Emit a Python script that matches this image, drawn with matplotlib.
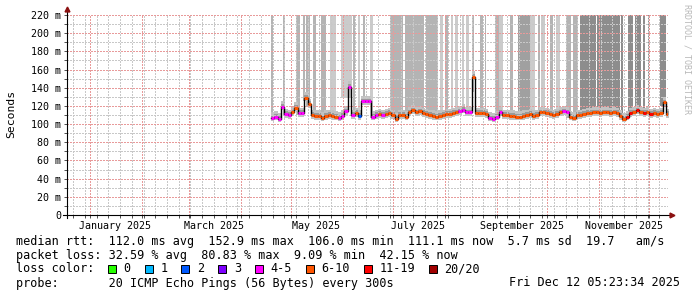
import numpy as np
import matplotlib
matplotlib.use('Agg')
import matplotlib.pyplot as plt
import matplotlib.dates as mdates
from matplotlib.ticker import MultipleLocator, FuncFormatter
from matplotlib.patches import Rectangle

plt.rcParams['font.family'] = ['DejaVu Sans Mono', 'DejaVu Sans']

# median rtt in ms, one value every 2 days, first value on day 108 of 2025 (19 Apr)
first_day = 108
step_days = 2
median_ms = [107, 108, 106, 119, 111, 110, 113, 118, 112, 112,
             129, 122, 110, 109, 109, 107, 109, 110, 109, 108,
             107, 109, 114, 141, 110, 112, 109, 125, 125, 125,
             108, 110, 111, 110, 111, 112, 110, 106, 110, 110,
             108, 113, 115, 113, 114, 112, 111, 110, 109, 108,
             109, 110, 111, 111, 112, 113, 114, 116, 113, 113,
             152, 112, 112, 112, 111, 107, 106, 108, 113, 110,
             110, 109, 109, 108, 108, 109, 110, 111, 109, 110,
             113, 113, 112, 111, 110, 111, 113, 114, 113, 108,
             107, 110, 110, 111, 112, 112, 113, 113, 112, 113,
             113, 112, 113, 112, 109, 106, 108, 112, 113, 115,
             113, 112, 113, 111, 112, 111, 112, 124, 111]
# loss class per value (index into loss_labels)
loss_class = [4, 4, 4, 4, 4, 4, 5, 5, 4, 4,
              5, 5, 5, 5, 5, 5, 5, 5, 5, 5,
              4, 4, 4, 4, 4, 5, 2, 4, 4, 4,
              4, 4, 5, 4, 5, 5, 5, 5, 5, 5,
              5, 5, 5, 5, 5, 5, 5, 5, 5, 5,
              5, 5, 5, 5, 5, 5, 4, 4, 4, 4,
              5, 5, 5, 5, 5, 4, 4, 4, 4, 5,
              5, 5, 5, 5, 5, 5, 5, 5, 5, 5,
              5, 5, 5, 5, 5, 5, 5, 4, 4, 5,
              5, 5, 5, 5, 5, 5, 5, 5, 5, 5,
              5, 5, 5, 5, 5, 5, 6, 6, 5, 6,
              5, 6, 5, 6, 5, 5, 5, 5, 5]

# tall smoke bands (day numbers of 2025) and their density level 1..4
smoke_from = [108.0, 115.5, 123.0, 127.0, 129.0, 133.0, 138.0, 143.5, 150.0, 157.0,
              160.0, 163.0, 167.5, 179.0, 188.0, 200.5, 209.0, 212.0, 215.5, 218.0,
              222.0, 224.5, 228.0, 233.0, 236.0, 242.0, 244.5, 251.0, 255.5, 263.0,
              267.5, 269.5, 275.0, 278.5, 284.0, 288.5, 292.5, 303.0, 317.0, 321.5,
              325.5, 330.5, 333.0, 340.5]
smoke_to = [109.5, 116.5, 125.5, 128.5, 131.5, 135.0, 141.0, 147.0, 156.5, 158.5,
            161.5, 164.5, 169.0, 187.0, 199.5, 208.0, 211.0, 214.0, 217.0, 220.0,
            223.5, 226.5, 229.5, 235.0, 236.5, 244.5, 246.5, 252.5, 263.0, 266.0,
            269.0, 272.0, 276.5, 281.0, 287.0, 291.5, 302.5, 316.5, 318.5, 324.5,
            329.0, 331.5, 334.0, 344.0]
smoke_level = [2, 2, 2, 2, 2, 2, 2, 1, 1, 2,
               1, 2, 1, 2, 2, 2, 1, 2, 1, 1,
               1, 1, 2, 2, 2, 2, 1, 2, 3, 1,
               2, 1, 2, 1, 2, 2, 4, 4, 4, 4,
               4, 4, 4, 4]

loss_labels = ['0', '1', '2', '3', '4-5', '6-10', '11-19', '20/20']
loss_colors = ['#26ff00', '#00b8ff', '#0059ff', '#7e00ff', '#ff00ff', '#ff5500', '#ff0000', '#a10000']

month_labels = ['January 2025', 'March 2025', 'May 2025', 'July 2025', 'September 2025', 'November 2025']
month_label_days = [15, 74, 135, 196, 258, 319]

rtt_stats = ['112.0 ms avg', '152.9 ms max', '106.0 ms min', '111.1 ms now', '5.7 ms sd', '19.7   am/s']
loss_stats = ['32.59 % avg', '80.83 % max', '9.09 % min', '42.15 % now']

W, H = 697, 297
fig = plt.figure(figsize=(W / 100, H / 100), dpi=100)
ax = fig.add_axes([67 / W, 82 / H, 601 / W, 200 / H])

base = mdates.date2num(np.datetime64('2025-01-01'))
days = first_day + step_days * np.arange(len(median_ms))
x = base + days
med = np.array(median_ms, dtype=float)
x_ext = np.append(x, x[-1] + step_days)
med_ext = np.append(med, med[-1])

# tall smoke
shade = {1: '#cbcbcb', 2: '#b4b4b4', 3: '#a0a0a0', 4: '#8d8d8d'}
top = 220
for a, b, lv in zip(smoke_from, smoke_to, smoke_level):
    bottom = np.interp((a + b) / 2, days, med) - 2
    ax.bar(base + a, top - bottom, width=b - a, bottom=bottom, align='edge',
           color=shade[lv], linewidth=0, zorder=1)

# smoke around the median
ax.fill_between(x_ext, med_ext - 4, med_ext + 6, step='post', color='#c2c2c2', lw=0, zorder=1.2)
ax.fill_between(x_ext, med_ext - 1.5, med_ext + 3, step='post', color='#9a9a9a', lw=0, zorder=1.3)

# median line coloured by loss
ax.step(x_ext, med_ext, where='post', color='black', lw=1.0, zorder=3)
ax.hlines(med, x, x + step_days, colors=[loss_colors[c] for c in loss_class], lw=2.2, zorder=4)

ax.set_xlim(base - 13.74, base + 345.22)
ax.set_ylim(0, 220)

ax.yaxis.set_major_locator(MultipleLocator(20))
ax.yaxis.set_minor_locator(MultipleLocator(10))
ax.yaxis.set_major_formatter(FuncFormatter(lambda v, p: '0' if v == 0 else '%d m' % v))
ax.xaxis.set_major_locator(mdates.MonthLocator())
ax.xaxis.set_minor_locator(mdates.WeekdayLocator(byweekday=mdates.SU))

ax.set_axisbelow(False)
ax.tick_params(which='both', direction='out', length=2.2, width=0.6, color='#333333')
ax.tick_params(axis='y', pad=2.2, labelsize=7.2)
ax.tick_params(axis='x', labelbottom=False)
for s in ax.spines.values():
    s.set_visible(False)

# dotted grid
ax.grid(which='minor', visible=True, color='#c8c8c8', lw=0.72, dashes=(1.4, 1.4), antialiased=False)
ax.grid(which='major', visible=True, color='#e89a9a', lw=0.72, dashes=(1.4, 1.4), antialiased=False)

sec = ax.secondary_xaxis('bottom')
sec.set_xticks(base + np.array(month_label_days), month_labels)
sec.tick_params(length=0, pad=4.2, labelsize=7.2)
sec.spines['bottom'].set_visible(False)

# axes with arrows
ax.plot([0, 0], [-0.015, 1.028], transform=ax.transAxes, color='black', lw=0.8, clip_on=False, zorder=5)
ax.plot([-0.007, 1.004], [0, 0], transform=ax.transAxes, color='black', lw=0.8, clip_on=False, zorder=5)
ax.plot(0, 1.03, marker='^', ms=3.5, color='#8b1010', transform=ax.transAxes, clip_on=False, zorder=6)
ax.plot(1.006, 0, marker='>', ms=3.5, color='#8b1010', transform=ax.transAxes, clip_on=False, zorder=6)


def pos(px, py):
    return px / W, 1 - py / H


fig.text(*pos(11, 114), 'Seconds', rotation=90, ha='center', va='center', fontsize=8.2)
fig.text(*pos(687, 59), 'RRDTOOL / TOBI OETIKER', rotation=270, ha='center', va='center',
         fontsize=6, color='#b8b8b8')

fs = 8.5
cw = 7.08
fig.text(*pos(16, 241), 'median rtt:  ' + '  '.join(rtt_stats), ha='left', va='center', fontsize=fs)
fig.text(*pos(16, 255), 'packet loss: ' + '  '.join(loss_stats), ha='left', va='center', fontsize=fs)
fig.text(*pos(16, 269), 'loss color:', ha='left', va='center', fontsize=fs)
x0 = 108
for lab, col in zip(loss_labels, loss_colors):
    fig.patches.append(Rectangle(pos(x0, 273), 8 / W, 8 / H, transform=fig.transFigure,
                                 facecolor=col, edgecolor='black', lw=0.7))
    fig.text(*pos(x0 + 15.5, 269), lab, ha='left', va='center', fontsize=fs)
    x0 += 15.5 + (len(lab) + 2) * cw
fig.text(*pos(16, 283), 'probe:       20 ICMP Echo Pings (56 Bytes) every 300s', ha='left', va='center', fontsize=fs)
fig.text(*pos(680, 283), 'Fri Dec 12 05:23:34 2025', ha='right', va='center', fontsize=fs)

fig.savefig('out.png', dpi=100)
